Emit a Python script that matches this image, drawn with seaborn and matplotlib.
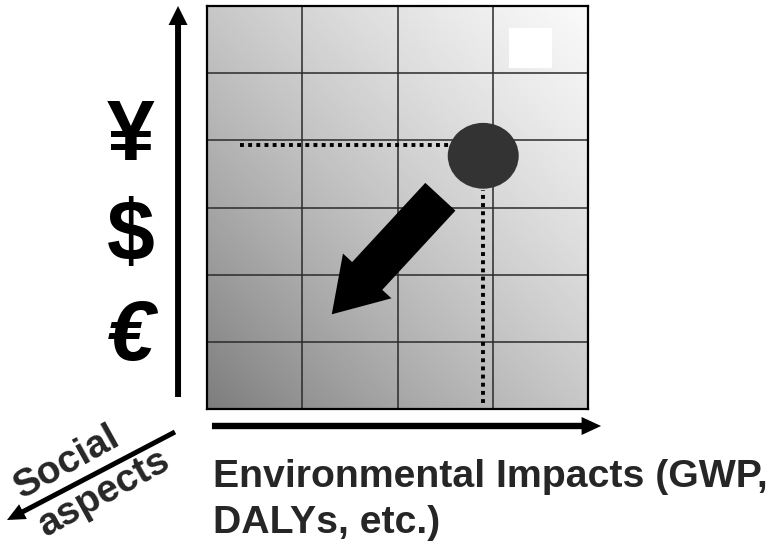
import numpy as np
import matplotlib
matplotlib.use("Agg")
import matplotlib.pyplot as plt
import seaborn as sns
from matplotlib.patches import Ellipse, Rectangle, FancyArrowPatch, ArrowStyle

# ---------------- data (grid units: 4 columns x 6 rows) ----------------
col_edges = [0, 1, 2, 3, 4]
row_edges = [0, 1, 2, 3, 4, 5, 6]
currency_labels = ["¥", "$", "€"]
currency_y = [3.71, 2.22, 0.73]
point_x = 2.90
point_y = 3.77
guide_h_x = [0.35, 2.55]
guide_h_y = [3.93, 3.93]
guide_v_x = [2.90, 2.90]
guide_v_y = [0.09, 3.26]
move_from = [2.45, 3.16]
move_to = [1.31, 1.41]
shade_tones = [0.49, 0.78, 0.98]   # bottom-left, mid-diagonal, top-right grey
x_label_lines = ["Environmental Impacts (GWP,", "DALYs, etc.)"]
social_words = ["Social", "aspects"]

sns.set_style("white")
plt.rcParams["font.family"] = ["Liberation Sans", "DejaVu Sans"]

W, H = 769, 543
fig = plt.figure(figsize=(W / 100, H / 100), dpi=100)
ax = fig.add_axes([207 / W, 134 / H, 381 / W, 403 / H])
ax.set_xlim(col_edges[0], col_edges[-1])
ax.set_ylim(row_edges[0], row_edges[-1])

# gradient background
c0, c1, c2 = shade_tones
a = 4 * c1 - 3 * c0 - c2
b = 2 * c0 + 2 * c2 - 4 * c1
u = np.linspace(0, 1, 200)
U, V = np.meshgrid(u, u)
T = (U + V) / 2
G = c0 + a * T + b * T ** 2
ax.imshow(G, cmap="gray", vmin=0, vmax=1, origin="lower",
          extent=(col_edges[0], col_edges[-1], row_edges[0], row_edges[-1]),
          aspect="auto", interpolation="bilinear", zorder=0)

ax.add_patch(Rectangle((3.17, 5.08), 0.45, 0.59, color="white", lw=0, zorder=0.6))

ax.set_xticks(col_edges)
ax.set_yticks(row_edges)
ax.grid(True, color="#2a2a2a", lw=1.1)
ax.tick_params(length=0, labelbottom=False, labelleft=False)
for s in ax.spines.values():
    s.set_color("black")
    s.set_linewidth(1.6)

# dotted guides
dot_style = dict(color="black", lw=2.8, linestyle=(0, (1.0, 1.1)),
                 dash_capstyle="butt", estimator=None, sort=False, zorder=3)
sns.lineplot(x=guide_h_x, y=guide_h_y, ax=ax, **dot_style)
sns.lineplot(x=guide_v_x, y=guide_v_y, ax=ax, **dot_style)

# point
ax.add_patch(Ellipse((point_x, point_y), 0.745, 0.98, color="#333333", lw=0, zorder=4))

# block arrow
blk = FancyArrowPatch(move_from, move_to,
                      arrowstyle=ArrowStyle.Simple(head_length=37.6, head_width=47.5, tail_width=29.5),
                      mutation_scale=1, color="black", lw=0, shrinkA=0, shrinkB=0, zorder=5)
ax.add_patch(blk)


def axis_arrow(p0, p1, tail, hw, hl):
    ar = FancyArrowPatch(p0, p1,
                         arrowstyle=ArrowStyle.Simple(head_length=hl, head_width=hw, tail_width=tail),
                         mutation_scale=1, color="black", lw=0, shrinkA=0, shrinkB=0, zorder=5)
    ar.set_clip_on(False)
    ax.add_patch(ar)


axis_arrow((-0.304, 0.179), (-0.304, 6.0), 4.3, 13.7, 13.7)
axis_arrow((0.052, -0.253), (4.137, -0.253), 4.6, 13.0, 14.0)
axis_arrow((-0.336, -0.342), (-2.10, -1.653), 3.6, 12.0, 13.0)

# currency symbols
for lab, yy in zip(currency_labels, currency_y):
    ax.text(-0.798, yy, lab, ha="center", va="baseline", fontsize=62,
            fontweight="bold", fontstyle="italic" if lab == "€" else "normal",
            color="black", clip_on=False)

# x label
ax.text(0.063, -1.161, x_label_lines[0], ha="left", va="baseline", fontsize=28.3,
        fontweight="bold", clip_on=False)
ax.text(0.063, -1.846, x_label_lines[1], ha="left", va="baseline", fontsize=28.3,
        fontweight="bold", clip_on=False)

# social aspects
ax.text(-1.470, -0.790, social_words[0], ha="center", va="center", fontsize=28,
        fontweight="bold", rotation=29, rotation_mode="anchor", clip_on=False)
ax.text(-1.071, -1.255, social_words[1], ha="center", va="center", fontsize=28,
        fontweight="bold", rotation=29, rotation_mode="anchor", clip_on=False)

fig.savefig("out.png", dpi=100)
